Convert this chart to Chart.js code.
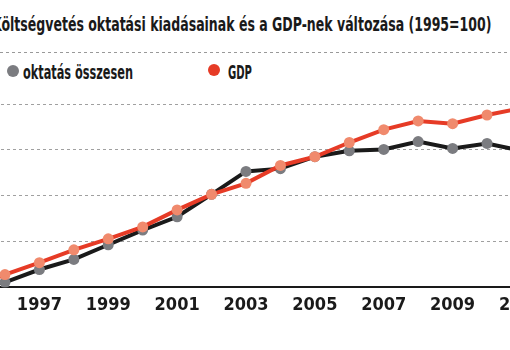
<!DOCTYPE html>
<html>
<head>
<meta charset="utf-8">
<script src="https://cdn.jsdelivr.net/npm/chart.js@4.4.1/dist/chart.umd.min.js"></script>
<style>
  html, body { margin: 0; padding: 0; background: #fff; }
  body { width: 510px; height: 350px; position: relative; overflow: hidden;
         font-family: 'Liberation Sans Narrow', 'DejaVu Sans Condensed', sans-serif; font-weight: bold; color: #1a1a1a; }
  #cim { position: absolute; top: 14px; left: 0; font-size: 20px; line-height: 20px; white-space: nowrap; transform-origin: 0 0; }
  #vonal { position: absolute; top: 52px; left: 0; width: 510px; height: 1px; z-index: 5;
           background-image: linear-gradient(to right, #999 50%, transparent 50%); background-size: 6px 1px; }
  .jel { position: absolute; top: 61px; font-size: 20px; line-height: 22px; white-space: nowrap; transform-origin: 0 0; }
  .pont { position: absolute; width: 12px; height: 12px; border-radius: 50%; }
  #tarto { position: absolute; left: -59px; top: 90px; width: 610px; height: 240px; }
</style>
</head>
<body>
<div id="cim"><span id="k">K</span><span id="cimtobbi">öltségvetés oktatási kiadásainak és a GDP-nek változása (1995=100)</span></div>
<div id="vonal"></div>
<div class="pont" style="left:7px; top:65px; background:#7b7c80"></div>
<div class="jel" id="jel1" style="left:23px">oktatás összesen</div>
<div class="pont" style="left:208px; top:64px; background:#e63b26"></div>
<div class="jel" id="jel2" style="left:228px">GDP</div>
<div id="tarto"><canvas id="myChart"></canvas></div>
<script>
var evek = ['1995','1996','1997','1998','1999','2000','2001','2002','2003','2004','2005','2006','2007','2008','2009','2010','2011'];
var oktatas = [100, 111, 139, 161, 193, 225, 254, 303, 353, 359, 385, 398, 401, 418, 403, 414, 398];
var gdp = [100, 128, 154, 182, 206, 232, 269, 303, 327, 366, 385, 416, 444, 463, 457, 476, 491];

// a kep betuje keskenyebb, ezert vizszintesen osszenyomjuk a szoveget
function szukit(id, cel) {
  var el = document.getElementById(id);
  var w = el.getBoundingClientRect().width;
  return cel / w;
}
var s = szukit('cimtobbi', 490);
var kSzel = document.getElementById('k').getBoundingClientRect().width;
var cim = document.getElementById('cim');
cim.style.transform = 'scaleX(' + s + ')';
cim.style.left = (-kSzel * s + 1) + 'px';

var s1 = szukit('jel1', 110);
document.getElementById('jel1').style.transform = 'scaleX(' + s1 + ')';
var s2 = szukit('jel2', 24);
document.getElementById('jel2').style.transform = 'scaleX(' + s2 + ')';

var ctx = document.getElementById('myChart').getContext('2d');
var chart = new Chart(ctx, {
  type: 'line',
  data: {
    labels: evek,
    datasets: [{
      label: 'GDP',
      data: gdp,
      borderColor: '#e63b26',
      backgroundColor: '#f08a6d',
      pointBackgroundColor: '#f08a6d',
      pointBorderWidth: 0,
      pointRadius: 5.5,
      borderWidth: 4,
      tension: 0
    }, {
      label: 'oktatás összesen',
      data: oktatas,
      borderColor: '#1a1a1a',
      backgroundColor: '#7b7c80',
      pointBackgroundColor: '#7b7c80',
      pointBorderWidth: 0,
      pointRadius: 5.5,
      borderWidth: 4,
      tension: 0
    }]
  },
  options: {
    responsive: true,
    maintainAspectRatio: false,
    animation: false,
    layout: { padding: { top: 14, bottom: 7, left: 0, right: 0 } },
    plugins: { legend: { display: false }, tooltip: { enabled: false } },
    scales: {
      x: {
        grid: { display: false, drawTicks: false },
        border: { display: true, color: '#1a1a1a', width: 2 },
        ticks: {
          autoSkip: false,
          maxRotation: 0,
          padding: 7,
          color: '#1a1a1a',
          font: { family: "'Liberation Sans Narrow', 'DejaVu Sans Condensed', sans-serif", size: 18, weight: 'bold' },
          callback: function(v, i) { return i % 2 == 0 ? evek[i] : ''; }
        }
      },
      y: {
        min: 100,
        max: 500,
        ticks: { display: false, stepSize: 100 },
        border: { display: false, dash: [3, 3] },
        grid: { color: '#a0a0a0', lineWidth: 1, drawTicks: false }
      }
    }
  }
});
</script>
</body>
</html>
